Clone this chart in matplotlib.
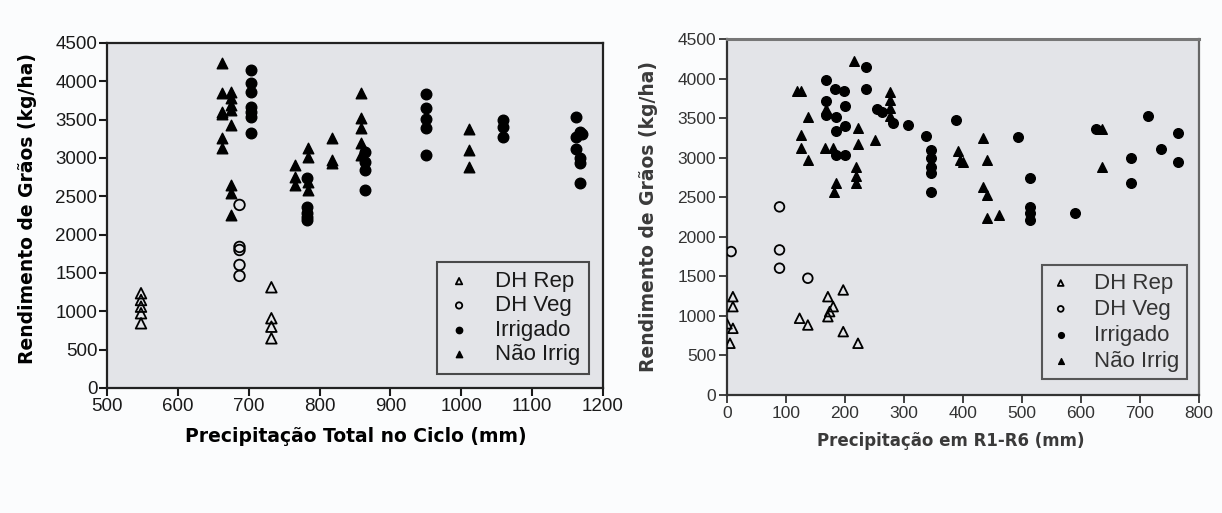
import matplotlib
matplotlib.use("Agg")
import matplotlib.pyplot as plt

plt.rcParams['font.family'] = ['Liberation Sans', 'DejaVu Sans']

# ---- Left panel: total precipitation in cycle (mm) vs grain yield (kg/ha)
L_rep_x = [548, 548, 548, 548, 548, 732, 732, 732, 732]
L_rep_y = [1236, 1148, 1061, 975, 844, 1314, 910, 800, 648]
L_veg_x = [687, 687, 687, 687, 687]
L_veg_y = [2388, 1840, 1800, 1605, 1462]
L_irr_x = [703, 703, 703, 703, 703, 703, 703,
           782, 782, 782, 782, 782,
           864, 864, 864, 864,
           950, 950, 950, 950, 950,
           1059, 1059, 1059,
           1162, 1168, 1162, 1170, 1162, 1168, 1168, 1168]
L_irr_y = [4150, 3976, 3867, 3671, 3606, 3533, 3324,
           2736, 2366, 2280, 2230, 2192,
           3084, 2953, 2845, 2584,
           3832, 3650, 3506, 3397, 3040,
           3497, 3410, 3271,
           3533, 3345, 3280, 3310, 3115, 3005, 2932, 2671]
L_nir_x = [663, 663, 663, 663, 663, 663,
           675, 675, 675, 675, 675, 675, 675, 675,
           765, 765, 765,
           784, 784, 784, 784,
           818, 818, 818,
           858, 858, 858, 858, 858,
           1011, 1011, 1011]
L_nir_y = [4237, 3846, 3606, 3580, 3259, 3128,
           3867, 3781, 3693, 3628, 3432, 2649, 2540, 2258,
           2910, 2757, 2649,
           3128, 3018, 2692, 2584,
           3259, 2975, 2932,
           3846, 3520, 3389, 3193, 3040,
           3376, 3106, 2888]

# ---- Right panel: precipitation in R1-R6 (mm) vs grain yield (kg/ha)
R_rep_x = [10, 10, 0, 10, 5, 123, 137, 171, 180, 174, 171, 197, 197, 222]
R_rep_y = [1243, 1117, 900, 843, 654, 970, 885, 1243, 1117, 1054, 990, 1328, 801, 654]
R_veg_x = [7, 89, 89, 89, 137]
R_veg_y = [1813, 2378, 1834, 1603, 1476]
R_irr_x = [235, 167, 183, 198, 236, 167, 167, 185, 200, 254, 262, 281, 307, 200,
           184, 185, 200, 337, 345, 345, 345, 345, 345, 388, 493, 513, 513,
           513, 513, 589, 626, 713, 764, 736, 684, 764, 684]
R_irr_y = [4145, 3976, 3867, 3837, 3867, 3710, 3541, 3520, 3656, 3614, 3571, 3437, 3415, 3403,
           3331, 3036, 3036, 3268, 3099, 2994, 2888, 2804, 2572, 3479, 3260, 2741, 2382,
           2298, 2214, 2298, 3361, 3529, 3318, 3108, 2994, 2939, 2678]
R_nir_x = [215, 118, 126, 137, 277, 277, 277, 277, 222, 222, 250, 126, 126, 137,
           166, 180, 218, 218, 218, 185, 181, 392, 400, 395, 434, 440, 434, 440,
           440, 461, 636, 167, 635]
R_nir_y = [4216, 3837, 3837, 3520, 3830, 3730, 3630, 3530, 3373, 3175, 3226, 3289, 3121, 2973,
           3121, 3121, 2888, 2762, 2678, 2678, 2572, 3078, 2951, 2973, 3247, 2973, 2635, 2530,
           2235, 2277, 2888, 3620, 3361]

LEGEND_LABELS = ["DH Rep", "DH Veg", "Irrigado", "Não Irrig"]
Y_LABEL = "Rendimento de Grãos (kg/ha)"

fig = plt.figure(figsize=(12.22, 5.13), dpi=100)
fig.patch.set_facecolor("#fbfcfd")

ax1 = fig.add_axes([107 / 1222, 1 - 388 / 513, 496 / 1222, 345 / 513])
ax2 = fig.add_axes([727 / 1222, 1 - 395 / 513, 472 / 1222, 356 / 513])

panel_bg = "#e3e4e8"
label_font = {"family": "DejaVu Sans", "weight": "bold"}


def draw(ax, rep, veg, irr, nir, s):
    h1 = ax.scatter(*rep, marker="^", s=s, facecolors="none", edgecolors="black", linewidths=1.3, zorder=3)
    h2 = ax.scatter(*veg, marker="o", s=s, facecolors="none", edgecolors="black", linewidths=1.3, zorder=3)
    h3 = ax.scatter(*irr, marker="o", s=s, facecolors="black", edgecolors="black", zorder=3)
    h4 = ax.scatter(*nir, marker="^", s=s, facecolors="black", edgecolors="black", zorder=3)
    return [h1, h2, h3, h4]


def style_legend(leg, edge, text_color):
    fr = leg.get_frame()
    fr.set_edgecolor(edge)
    fr.set_linewidth(1.5)
    fr.set_facecolor(panel_bg)
    for t in leg.get_texts():
        t.set_color(text_color)


hl = draw(ax1, (L_rep_x, L_rep_y), (L_veg_x, L_veg_y), (L_irr_x, L_irr_y), (L_nir_x, L_nir_y), 58)
hr = draw(ax2, (R_rep_x, R_rep_y), (R_veg_x, R_veg_y), (R_irr_x, R_irr_y), (R_nir_x, R_nir_y), 48)

# Left axes
ax1.set_xlim(500, 1200)
ax1.set_ylim(0, 4500)
ax1.set_xticks(range(500, 1201, 100))
ax1.set_yticks(range(0, 4501, 500))
ax1.set_facecolor(panel_bg)
for sp in ax1.spines.values():
    sp.set_linewidth(1.6)
    sp.set_color("#222222")
ax1.tick_params(direction="out", length=6, width=1.5, labelsize=13.5, pad=1, colors="#1a1a1a")
ax1.set_xlabel("Precipitação Total no Ciclo (mm)", fontdict=label_font, fontsize=13.5, va="center", ha="center")
ax1.set_ylabel(Y_LABEL, fontdict=label_font, fontsize=13.5, va="center", ha="center")
ax1.xaxis.set_label_coords(0.501, -0.142)
ax1.yaxis.set_label_coords(-0.161, 0.52)
leg1 = ax1.legend(hl, LEGEND_LABELS, loc="upper left", bbox_to_anchor=(0.665, 0.365),
                  fontsize=16, markerscale=0.6, frameon=True, fancybox=False,
                  handlelength=1.2, handletextpad=1.0, borderpad=0.4, labelspacing=0.15,
                  borderaxespad=0)
style_legend(leg1, "#222222", "#1a1a1a")

# Right axes
ax2.set_xlim(0, 800)
ax2.set_ylim(0, 4500)
ax2.set_xticks(range(0, 801, 100))
ax2.set_yticks(range(0, 4501, 500))
ax2.set_facecolor(panel_bg)
for sp in ax2.spines.values():
    sp.set_linewidth(1.6)
    sp.set_color("#333333")
ax2.spines["top"].set_color("#777777")
ax2.spines["top"].set_linewidth(2.2)
ax2.spines["right"].set_color("#666666")
ax2.tick_params(direction="out", length=6, width=1.3, labelsize=12.5, pad=2, colors="#333333")
ax2.set_xlabel("Precipitação em R1-R6 (mm)", fontdict=label_font, fontsize=12, color="#3a3a3a",
               va="center", ha="center")
ax2.set_ylabel(Y_LABEL, fontdict=label_font, fontsize=13.5, color="#3a3a3a", va="center", ha="center")
ax2.xaxis.set_label_coords(0.475, -0.13)
ax2.yaxis.set_label_coords(-0.167, 0.5)
leg2 = ax2.legend(hr, LEGEND_LABELS, loc="upper left", bbox_to_anchor=(0.667, 0.365),
                  fontsize=16, markerscale=0.6, frameon=True, fancybox=False,
                  handlelength=1.0, handletextpad=1.0, borderpad=0.35, labelspacing=0.22,
                  borderaxespad=0)
style_legend(leg2, "#333333", "#333333")

fig.savefig("out.png", dpi=100, facecolor=fig.get_facecolor())
